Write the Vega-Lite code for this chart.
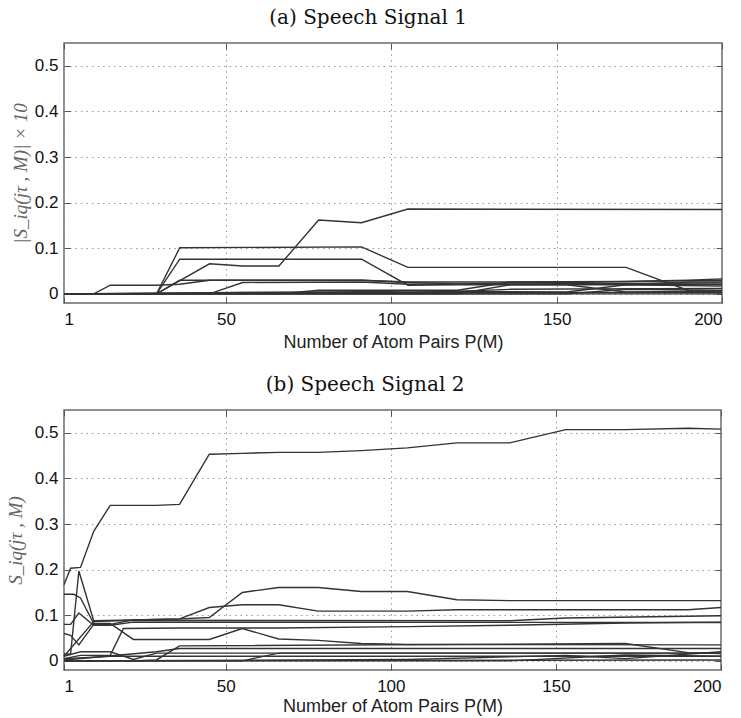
{
  "$schema": "https://vega.github.io/schema/vega-lite/v6.json",
  "padding": {"left": 5, "top": 6, "right": 10, "bottom": 5},
  "background": "white",
  "align": "none",
  "config": {
    "view": {"stroke": "#6b6b6b", "strokeWidth": 1.5},
    "axis": {
      "labelFont": "Liberation Sans", "labelFontSize": 17, "labelColor": "#111",
      "titleFont": "Liberation Sans", "titleFontSize": 18, "titleFontWeight": "normal", "titleColor": "#222",
      "domain": false, "tickColor": "#555", "tickSize": -6, "tickWidth": 1,
      "gridColor": "#9a9a9a", "gridDash": [1.5, 4], "gridWidth": 1, "gridOpacity": 1
    },
    "title": {"font": "DejaVu Serif", "fontSize": 20, "fontWeight": "normal", "color": "#111", "offset": 15, "frame": "bounds"},
    "concat": {"spacing": 21}
  },
  "datasets": {
    "p1": [
      {"s": "a1", "x": 1, "y": 0}, {"s": "a1", "x": 29, "y": 0}, {"s": "a1", "x": 45, "y": 0.066}, {"s": "a1", "x": 55, "y": 0.061}, {"s": "a1", "x": 66, "y": 0.061}, {"s": "a1", "x": 78, "y": 0.162}, {"s": "a1", "x": 91, "y": 0.156}, {"s": "a1", "x": 105, "y": 0.186}, {"s": "a1", "x": 200, "y": 0.185},
      {"s": "a2", "x": 1, "y": 0}, {"s": "a2", "x": 29, "y": 0}, {"s": "a2", "x": 36, "y": 0.101}, {"s": "a2", "x": 91, "y": 0.103}, {"s": "a2", "x": 105, "y": 0.058}, {"s": "a2", "x": 171, "y": 0.058}, {"s": "a2", "x": 190, "y": 0.007}, {"s": "a2", "x": 200, "y": 0.006},
      {"s": "a3", "x": 1, "y": 0}, {"s": "a3", "x": 29, "y": 0}, {"s": "a3", "x": 36, "y": 0.076}, {"s": "a3", "x": 91, "y": 0.076}, {"s": "a3", "x": 105, "y": 0.019}, {"s": "a3", "x": 120, "y": 0.02}, {"s": "a3", "x": 200, "y": 0.02},
      {"s": "a4", "x": 1, "y": 0}, {"s": "a4", "x": 10, "y": 0}, {"s": "a4", "x": 15, "y": 0.019}, {"s": "a4", "x": 29, "y": 0.019}, {"s": "a4", "x": 36, "y": 0.021}, {"s": "a4", "x": 45, "y": 0.03}, {"s": "a4", "x": 91, "y": 0.03}, {"s": "a4", "x": 105, "y": 0.025}, {"s": "a4", "x": 120, "y": 0.022}, {"s": "a4", "x": 200, "y": 0.03},
      {"s": "a5", "x": 1, "y": 0}, {"s": "a5", "x": 29, "y": 0}, {"s": "a5", "x": 36, "y": 0.03}, {"s": "a5", "x": 91, "y": 0.03}, {"s": "a5", "x": 105, "y": 0.026}, {"s": "a5", "x": 136, "y": 0.026}, {"s": "a5", "x": 171, "y": 0.027}, {"s": "a5", "x": 190, "y": 0.03}, {"s": "a5", "x": 200, "y": 0.033},
      {"s": "a6", "x": 1, "y": 0}, {"s": "a6", "x": 45, "y": 0}, {"s": "a6", "x": 55, "y": 0.025}, {"s": "a6", "x": 91, "y": 0.026}, {"s": "a6", "x": 105, "y": 0.021}, {"s": "a6", "x": 200, "y": 0.024},
      {"s": "a7", "x": 1, "y": 0}, {"s": "a7", "x": 66, "y": 0}, {"s": "a7", "x": 78, "y": 0.008}, {"s": "a7", "x": 120, "y": 0.008}, {"s": "a7", "x": 136, "y": 0.026}, {"s": "a7", "x": 153, "y": 0.026}, {"s": "a7", "x": 171, "y": 0.02}, {"s": "a7", "x": 200, "y": 0.017},
      {"s": "a8", "x": 1, "y": 0}, {"s": "a8", "x": 120, "y": 0}, {"s": "a8", "x": 136, "y": 0.02}, {"s": "a8", "x": 153, "y": 0.02}, {"s": "a8", "x": 171, "y": 0.004}, {"s": "a8", "x": 200, "y": 0.006},
      {"s": "a9", "x": 1, "y": 0}, {"s": "a9", "x": 91, "y": 0.005}, {"s": "a9", "x": 105, "y": 0.006}, {"s": "a9", "x": 153, "y": 0.004}, {"s": "a9", "x": 171, "y": 0.02}, {"s": "a9", "x": 190, "y": 0.026}, {"s": "a9", "x": 200, "y": 0.026},
      {"s": "a10", "x": 1, "y": 0}, {"s": "a10", "x": 55, "y": 0.003}, {"s": "a10", "x": 200, "y": 0.003},
      {"s": "a11", "x": 1, "y": 0}, {"s": "a11", "x": 105, "y": 0.002}, {"s": "a11", "x": 136, "y": 0.01}, {"s": "a11", "x": 200, "y": 0.012},
      {"s": "a12", "x": 1, "y": 0}, {"s": "a12", "x": 200, "y": 0},
      {"s": "a13", "x": 1, "y": 0}, {"s": "a13", "x": 153, "y": 0}, {"s": "a13", "x": 171, "y": 0.01}, {"s": "a13", "x": 200, "y": 0.008}
    ],
    "p2": [
      {"s": "b1", "x": 1, "y": 0.167}, {"s": "b1", "x": 3, "y": 0.203}, {"s": "b1", "x": 6, "y": 0.205}, {"s": "b1", "x": 10, "y": 0.284}, {"s": "b1", "x": 15, "y": 0.341}, {"s": "b1", "x": 29, "y": 0.341}, {"s": "b1", "x": 36, "y": 0.343}, {"s": "b1", "x": 45, "y": 0.453}, {"s": "b1", "x": 55, "y": 0.455}, {"s": "b1", "x": 66, "y": 0.457}, {"s": "b1", "x": 78, "y": 0.457}, {"s": "b1", "x": 91, "y": 0.461}, {"s": "b1", "x": 105, "y": 0.467}, {"s": "b1", "x": 120, "y": 0.478}, {"s": "b1", "x": 136, "y": 0.478}, {"s": "b1", "x": 153, "y": 0.507}, {"s": "b1", "x": 171, "y": 0.507}, {"s": "b1", "x": 190, "y": 0.51}, {"s": "b1", "x": 200, "y": 0.508},
      {"s": "b2", "x": 1, "y": 0.146}, {"s": "b2", "x": 4, "y": 0.146}, {"s": "b2", "x": 6, "y": 0.138}, {"s": "b2", "x": 10, "y": 0.082}, {"s": "b2", "x": 15, "y": 0.082}, {"s": "b2", "x": 22, "y": 0.047}, {"s": "b2", "x": 45, "y": 0.047}, {"s": "b2", "x": 55, "y": 0.071}, {"s": "b2", "x": 66, "y": 0.048}, {"s": "b2", "x": 78, "y": 0.045}, {"s": "b2", "x": 91, "y": 0.038}, {"s": "b2", "x": 105, "y": 0.036}, {"s": "b2", "x": 200, "y": 0.035},
      {"s": "b3", "x": 1, "y": 0.08}, {"s": "b3", "x": 3, "y": 0.08}, {"s": "b3", "x": 5.5, "y": 0.105}, {"s": "b3", "x": 10, "y": 0.078}, {"s": "b3", "x": 15, "y": 0.078}, {"s": "b3", "x": 22, "y": 0.085}, {"s": "b3", "x": 200, "y": 0.084},
      {"s": "b4", "x": 1, "y": 0.06}, {"s": "b4", "x": 3, "y": 0.056}, {"s": "b4", "x": 5.5, "y": 0.035}, {"s": "b4", "x": 10, "y": 0.08}, {"s": "b4", "x": 15, "y": 0.08}, {"s": "b4", "x": 22, "y": 0.09}, {"s": "b4", "x": 36, "y": 0.092}, {"s": "b4", "x": 45, "y": 0.095}, {"s": "b4", "x": 55, "y": 0.15}, {"s": "b4", "x": 66, "y": 0.161}, {"s": "b4", "x": 78, "y": 0.161}, {"s": "b4", "x": 91, "y": 0.152}, {"s": "b4", "x": 105, "y": 0.152}, {"s": "b4", "x": 120, "y": 0.134}, {"s": "b4", "x": 136, "y": 0.132}, {"s": "b4", "x": 200, "y": 0.132},
      {"s": "b5", "x": 1, "y": 0.015}, {"s": "b5", "x": 3, "y": 0.015}, {"s": "b5", "x": 5.5, "y": 0.197}, {"s": "b5", "x": 10, "y": 0.088}, {"s": "b5", "x": 22, "y": 0.09}, {"s": "b5", "x": 36, "y": 0.092}, {"s": "b5", "x": 45, "y": 0.117}, {"s": "b5", "x": 55, "y": 0.123}, {"s": "b5", "x": 66, "y": 0.123}, {"s": "b5", "x": 78, "y": 0.109}, {"s": "b5", "x": 105, "y": 0.109}, {"s": "b5", "x": 120, "y": 0.112}, {"s": "b5", "x": 190, "y": 0.112}, {"s": "b5", "x": 200, "y": 0.117},
      {"s": "b6", "x": 1, "y": 0.005}, {"s": "b6", "x": 6, "y": 0.012}, {"s": "b6", "x": 15, "y": 0.012}, {"s": "b6", "x": 19, "y": 0.071}, {"s": "b6", "x": 36, "y": 0.072}, {"s": "b6", "x": 66, "y": 0.072}, {"s": "b6", "x": 105, "y": 0.075}, {"s": "b6", "x": 136, "y": 0.078}, {"s": "b6", "x": 171, "y": 0.083}, {"s": "b6", "x": 200, "y": 0.085},
      {"s": "b7", "x": 1, "y": 0.01}, {"s": "b7", "x": 10, "y": 0.086}, {"s": "b7", "x": 22, "y": 0.089}, {"s": "b7", "x": 136, "y": 0.088}, {"s": "b7", "x": 153, "y": 0.094}, {"s": "b7", "x": 200, "y": 0.099},
      {"s": "b8", "x": 1, "y": 0.01}, {"s": "b8", "x": 6, "y": 0.02}, {"s": "b8", "x": 15, "y": 0.02}, {"s": "b8", "x": 22, "y": 0.003}, {"s": "b8", "x": 29, "y": 0.017}, {"s": "b8", "x": 200, "y": 0.017},
      {"s": "b9", "x": 1, "y": 0}, {"s": "b9", "x": 22, "y": 0}, {"s": "b9", "x": 29, "y": 0.002}, {"s": "b9", "x": 36, "y": 0.033}, {"s": "b9", "x": 171, "y": 0.038}, {"s": "b9", "x": 190, "y": 0.018}, {"s": "b9", "x": 200, "y": 0.016},
      {"s": "b10", "x": 1, "y": 0.002}, {"s": "b10", "x": 29, "y": 0.02}, {"s": "b10", "x": 36, "y": 0.027}, {"s": "b10", "x": 200, "y": 0.027},
      {"s": "b11", "x": 1, "y": 0}, {"s": "b11", "x": 55, "y": 0}, {"s": "b11", "x": 66, "y": 0.017}, {"s": "b11", "x": 200, "y": 0.017},
      {"s": "b12", "x": 1, "y": 0}, {"s": "b12", "x": 105, "y": 0.003}, {"s": "b12", "x": 153, "y": 0.012}, {"s": "b12", "x": 171, "y": 0.005}, {"s": "b12", "x": 200, "y": 0.02},
      {"s": "b13", "x": 1, "y": 0}, {"s": "b13", "x": 200, "y": 0.002},
      {"s": "b14", "x": 1, "y": 0}, {"s": "b14", "x": 136, "y": 0}, {"s": "b14", "x": 171, "y": 0.013}, {"s": "b14", "x": 200, "y": 0.01},
      {"s": "b15", "x": 1, "y": 0.005}, {"s": "b15", "x": 10, "y": 0.008}, {"s": "b15", "x": 15, "y": 0.01}, {"s": "b15", "x": 200, "y": 0.01}
    ]
  },
  "vconcat": [
    {
      "title": "(a) Speech Signal 1",
      "width": 658, "height": 260,
      "data": {"name": "p1"},
      "layer": [
        {
          "mark": {"type": "line", "color": "#333333", "strokeWidth": 1.4},
          "encoding": {
            "x": {"field": "x", "type": "quantitative", "scale": {"domain": [1, 200], "nice": false, "zero": false},
                  "axis": {"values": [1, 50, 100, 150, 200], "title": "Number of Atom Pairs P(M)", "grid": true, "labelPadding": 14, "titlePadding": 6}},
            "y": {"field": "y", "type": "quantitative", "scale": {"domain": [-0.02, 0.55], "nice": false, "zero": false},
                  "axis": {"values": [0, 0.1, 0.2, 0.3, 0.4, 0.5], "format": ".1~f", "grid": true, "labelPadding": 12,
                           "title": "|S_iq(jτ , M)| × 10", "titleFont": "Liberation Serif", "titleFontStyle": "italic", "titleFontSize": 19, "titleColor": "#666666", "titlePadding": 4}},
            "detail": {"field": "s"}
          }
        },
        {
          "mark": {"type": "line", "opacity": 0},
          "encoding": {
            "x": {"field": "x", "type": "quantitative", "axis": {"orient": "top", "values": [1, 50, 100, 150, 200], "labels": false, "title": null, "grid": false}},
            "y": {"field": "y", "type": "quantitative", "axis": {"orient": "right", "values": [0, 0.1, 0.2, 0.3, 0.4, 0.5], "labels": false, "title": null, "grid": false}},
            "detail": {"field": "s"}
          }
        }
      ],
      "resolve": {"axis": {"x": "independent", "y": "independent"}}
    },
    {
      "title": "(b) Speech Signal 2",
      "width": 657, "height": 260,
      "data": {"name": "p2"},
      "layer": [
        {
          "mark": {"type": "line", "color": "#333333", "strokeWidth": 1.4},
          "encoding": {
            "x": {"field": "x", "type": "quantitative", "scale": {"domain": [1, 200], "nice": false, "zero": false},
                  "axis": {"values": [1, 50, 100, 150, 200], "title": "Number of Atom Pairs P(M)", "grid": true, "labelPadding": 14, "titlePadding": 3}},
            "y": {"field": "y", "type": "quantitative", "scale": {"domain": [-0.02, 0.55], "nice": false, "zero": false},
                  "axis": {"values": [0, 0.1, 0.2, 0.3, 0.4, 0.5], "format": ".1~f", "grid": true, "labelPadding": 12,
                           "title": "S_iq(jτ , M)", "titleFont": "Liberation Serif", "titleFontStyle": "italic", "titleFontSize": 19, "titleColor": "#666666", "titlePadding": 9}},
            "detail": {"field": "s"}
          }
        },
        {
          "mark": {"type": "line", "opacity": 0},
          "encoding": {
            "x": {"field": "x", "type": "quantitative", "axis": {"orient": "top", "values": [1, 50, 100, 150, 200], "labels": false, "title": null, "grid": false}},
            "y": {"field": "y", "type": "quantitative", "axis": {"orient": "right", "values": [0, 0.1, 0.2, 0.3, 0.4, 0.5], "labels": false, "title": null, "grid": false}},
            "detail": {"field": "s"}
          }
        }
      ],
      "resolve": {"axis": {"x": "independent", "y": "independent"}}
    }
  ]
}
